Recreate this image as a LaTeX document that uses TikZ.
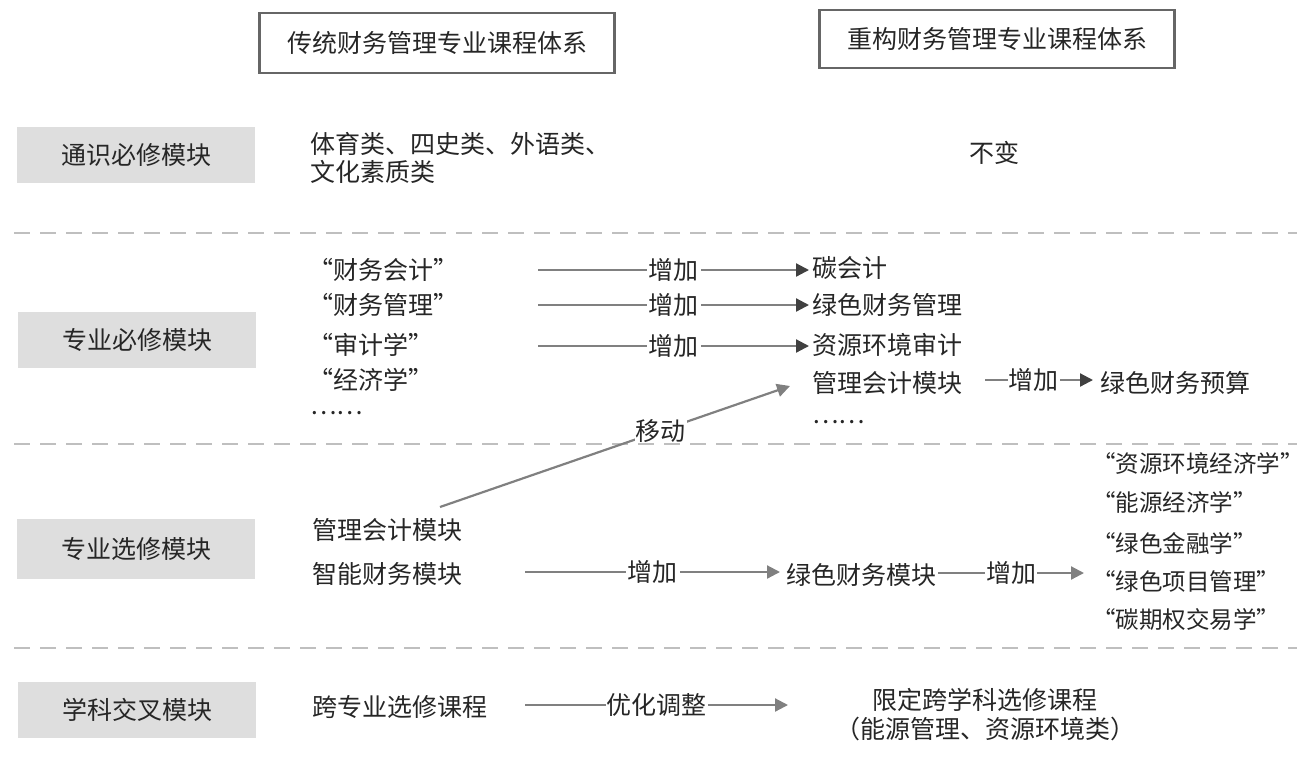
\documentclass[tikz,border=0pt]{standalone}
\usepackage{fontspec}
\setmainfont{Noto Sans CJK SC}
\usetikzlibrary{arrows.meta}
\begin{document}
\begin{tikzpicture}[x=1pt,y=-1pt,
  txt/.style={anchor=west,inner sep=0pt,font=\fontsize{25}{29}\selectfont,text=black!85},
  small/.style={font=\fontsize{23.5}{28}\selectfont},
  head/.style={draw=black!60,line width=2.5pt,minimum width=355pt,minimum height=60pt,font=\fontsize{25}{29}\selectfont,text=black!85},
  modbox/.style={fill=black!13,minimum width=238pt,minimum height=56pt,font=\fontsize{25}{29}\selectfont,text=black!85},
  sep/.style={draw=black!25,line width=2pt,dash pattern=on 16pt off 10pt},
  flow/.style={draw=black!50,line width=2.2pt,-{Triangle[length=13pt,width=13pt]}},
  flowd/.style={draw=black!50,line width=2.2pt,-{Triangle[length=13pt,width=13pt,fill=black!75,color=black!75]}},
  lab/.style={fill=white,inner sep=2pt,font=\fontsize{25}{29}\selectfont,text=black!85}]
\useasboundingbox (0,0) rectangle (1311,777);
% headers
\node[head] (h1) at (437,43) {传统财务管理专业课程体系};
\node[head,minimum height=58pt] (h2) at (997,39) {重构财务管理专业课程体系};
% module boxes
\node[modbox] (m1) at (136,155) {通识必修模块};
\node[modbox] (m2) at (137,340) {专业必修模块};
\node[modbox,minimum height=60pt] (m3) at (136,549) {专业选修模块};
\node[modbox] (m4) at (137,710) {学科交叉模块};
% separators
\draw[sep] (14,233) -- (1297,233);
\draw[sep] (14,444) -- (1297,444);
\draw[sep] (14,648) -- (1297,648);
% row 1
\node[txt] (t1a) at (310,144) {体育类、四史类、外语类、};
\node[txt] (t1b) at (310,172) {文化素质类};
\node[txt,anchor=center] (t1c) at (994,153) {不变};
% row 2 left
\node[txt] (l1) at (308,270) {“财务会计”};
\node[txt] (l2) at (308,305) {“财务管理”};
\node[txt] (l3) at (308,345) {“审计学”};
\node[txt] (l4) at (308,380) {“经济学”};
\node[txt] (l5) at (310,413) {……};
% row 2 right
\node[txt] (r1) at (812,268) {碳会计};
\node[txt] (r2) at (812,305) {绿色财务管理};
\node[txt] (r3) at (812,345) {资源环境审计};
\node[txt] (r4) at (812,383) {管理会计模块};
\node[txt] (r5) at (812,422) {……};
\node[txt] (r6) at (1100,383) {绿色财务预算};
\coordinate (s1) at (538,270);
\coordinate (s2) at (538,305);
\coordinate (s3) at (538,346);
\coordinate (s6) at (985,380);
\draw[flowd] (s1) -- node[lab]{增加} ([xshift=-3pt]r1.west |- s1);
\draw[flowd] (s2) -- node[lab]{增加} ([xshift=-3pt]r2.west |- s2);
\draw[flowd] (s3) -- node[lab]{增加} ([xshift=-3pt]r3.west |- s3);
\draw[flowd] (s6) -- node[lab,inner sep=1pt,pos=0.45]{增加} ([xshift=-7pt]r6.west |- s6);
% row 3
\node[txt] (e1) at (312,530) {管理会计模块};
\node[txt] (e2) at (312,574) {智能财务模块};
\coordinate (mv) at (440,507);
\coordinate (mvend) at (790,386);
\draw[flow] (mv) -- node[lab,pos=0.63,inner sep=1pt]{移动} (mvend);
\node[txt] (g1) at (786,575) {绿色财务模块};
\coordinate (s4) at (525,572);
\draw[flow] (s4) -- node[lab]{增加} ([xshift=-6pt]g1.west |- s4);
\node[txt,small] (q1) at (1092,463) {“资源环境经济学”};
\node[txt,small] (q2) at (1092,502) {“能源经济学”};
\node[txt,small] (q3) at (1092,543) {“绿色金融学”};
\node[txt,small] (q4) at (1092,581) {“绿色项目管理”};
\node[txt,small] (q5) at (1092,620) {“碳期权交易学”};
\draw[flow] ([xshift=2pt]g1.east |- 0,573) -- node[lab,inner sep=1pt,pos=0.5]{增加} ([xshift=-8pt]q4.west |- 0,573);
% row 4
\node[txt] (c1) at (312,707) {跨专业选修课程};
\node[txt,anchor=center] (c2) at (985,700) {限定跨学科选修课程};
\node[txt,anchor=center] (c3) at (985,729) {（能源管理、资源环境类）};
\coordinate (s5) at (525,705);
\coordinate (e5) at (788,705);
\draw[flow] (s5) -- node[lab,inner sep=1pt]{优化调整} (e5);
\end{tikzpicture}
\end{document}
